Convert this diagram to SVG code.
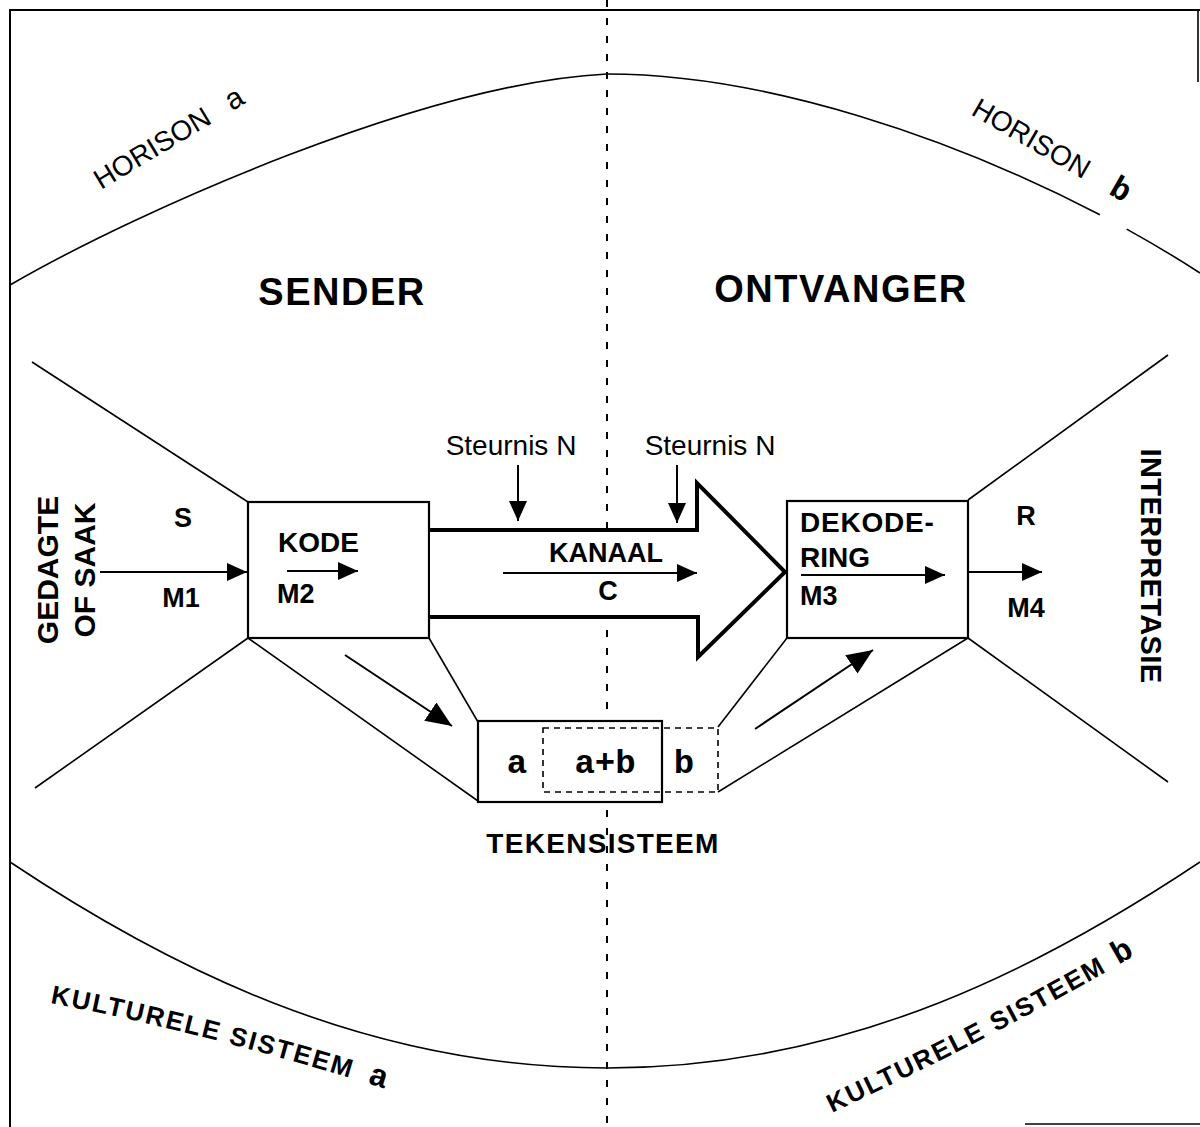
<svg xmlns="http://www.w3.org/2000/svg" width="1200" height="1127" viewBox="0 0 1200 1127">
<defs>
<style>
.ln{stroke:#000;stroke-width:1.6;fill:none}
.fr{stroke:#000;stroke-width:2;fill:none}
.t{font-family:"Liberation Sans",Arial,sans-serif;fill:#000}
.b{font-weight:bold}
.m{font-family:"Liberation Mono","Courier New",monospace;font-weight:bold}
.box{fill:#fff;stroke:#000;stroke-width:2.2}
.arr{stroke:#000;stroke-width:2;fill:none;marker-end:url(#ah)}
.darr{stroke:#000;stroke-width:2;fill:none;marker-end:url(#ahL)}
</style>
<marker id="ah" markerUnits="userSpaceOnUse" markerWidth="20" markerHeight="18" refX="20" refY="9" orient="auto" viewBox="0 0 20 18"><path d="M0,0 L20,9 L0,18 z" fill="#000"/></marker>
<marker id="ahL" markerUnits="userSpaceOnUse" markerWidth="26" markerHeight="22" refX="26" refY="11" orient="auto" viewBox="0 0 26 22"><path d="M0,0 L26,11 L0,22 z" fill="#000"/></marker>
<path id="kpa" d="M50,1003 C130,1018 250,1045 420,1100"/>
<path id="kpb" d="M832,1113 C900,1080 1000,1035 1170,935"/>
</defs>
<rect width="1200" height="1127" fill="#fff"/>
<g id="frame">
<path class="fr" d="M10,1127 V10 H1200"/>
<line class="ln" x1="1198" y1="10" x2="1198" y2="82"/>
<line class="ln" x1="1025" y1="1124" x2="1200" y2="1124"/>
</g>
<g id="centerline">
<line x1="607" y1="0" x2="607" y2="1127" stroke="#000" stroke-width="2" stroke-dasharray="7 11"/>
</g>
<g id="horizons">
<path class="ln" d="M10,285 C140,209.6 427,83 607,74"/>
<path class="ln" d="M607,74 C767,74 954.5,139 1099.9,214.8"/>
<path class="ln" d="M1126.7,229.1 C1152.9,243.6 1177.5,258.4 1200,273"/>
<path class="ln" d="M10,862 C160,962 360,1068 607,1068"/>
<path class="ln" d="M607,1068 C854,1068 1050,962 1200,862"/>
<text class="t" font-size="28" transform="translate(101,190) rotate(-31)">HORISON<tspan font-size="30" dx="22">a</tspan></text>
<text class="t" font-size="28" transform="translate(970,114) rotate(30)">HORISON<tspan class="m" font-size="32" dx="28">b</tspan></text>
<text class="t b" font-size="26" letter-spacing="2"><textPath href="#kpa">KULTURELE SISTEEM<tspan class="m" font-size="32" dx="16">a</tspan></textPath></text>
<text class="t b" font-size="26" letter-spacing="2"><textPath href="#kpb">KULTURELE SISTEEM<tspan class="m" font-size="32" dx="12">b</tspan></textPath></text>
</g>
<g id="funnels">
<line class="ln" x1="32" y1="362" x2="248" y2="502"/>
<line class="ln" x1="35" y1="788" x2="248" y2="638"/>
<line class="ln" x1="248" y1="638" x2="478" y2="801"/>
<line class="ln" x1="429" y1="638" x2="478" y2="722"/>
<line class="ln" x1="968" y1="500" x2="1168" y2="355"/>
<line class="ln" x1="968" y1="638" x2="1168" y2="782"/>
<line class="ln" x1="787" y1="638" x2="718" y2="727"/>
<line class="ln" x1="968" y1="638" x2="718" y2="792"/>
</g>
<g id="titles">
<text class="t b" font-size="38" letter-spacing="1.5" x="342" y="305" text-anchor="middle">SENDER</text>
<text class="t b" font-size="38" letter-spacing="1.5" x="841" y="302" text-anchor="middle">ONTVANGER</text>
<text class="t b" font-size="30" text-anchor="middle" transform="translate(58,570) rotate(-90)">GEDAGTE</text>
<text class="t b" font-size="30" text-anchor="middle" transform="translate(95,570) rotate(-90)">OF SAAK</text>
<text class="t b" font-size="29" letter-spacing="0.4" text-anchor="middle" transform="translate(1141,566) rotate(90)">INTERPRETASIE</text>
<text class="t b" font-size="27" x="183" y="527" text-anchor="middle">S</text>
<text class="t b" font-size="27" x="181" y="607" text-anchor="middle">M1</text>
<text class="t b" font-size="27" x="1026" y="525" text-anchor="middle">R</text>
<text class="t b" font-size="27" x="1026" y="617" text-anchor="middle">M4</text>
<text class="t" font-size="28" x="511" y="455" text-anchor="middle">Steurnis N</text>
<text class="t" font-size="28" x="710" y="455" text-anchor="middle">Steurnis N</text>
</g>
<g id="kode">
<rect class="box" x="248" y="502" width="181" height="136"/>
<text class="t b" font-size="28" x="278" y="552">KODE</text>
<text class="t b" font-size="27" x="277" y="603">M2</text>
</g>
<g id="kanaal">
<polyline points="430,530 697,530 697,483 785,572 698,657 698,617 430,617" fill="#fff" stroke="#000" stroke-width="4" stroke-linejoin="miter"/>
<text class="t b" font-size="27" x="606" y="562" text-anchor="middle">KANAAL</text>
<text class="t b" font-size="27" x="608" y="600" text-anchor="middle">C</text>
</g>
<g id="dekodering">
<rect class="box" x="787" y="501" width="181" height="137"/>
<text class="t b" font-size="28" letter-spacing="0.8" x="800" y="532">DEKODE-</text>
<text class="t b" font-size="28" x="800" y="567">RING</text>
<text class="t b" font-size="27" x="800" y="605">M3</text>
</g>
<g id="tekensisteem">
<rect class="box" x="478" y="721" width="184" height="81"/>
<rect x="543" y="728" width="175" height="64" fill="none" stroke="#000" stroke-width="1.6" stroke-dasharray="6 5"/>
<text class="m" font-size="34" x="517" y="773" text-anchor="middle">a</text>
<text class="m" font-size="34" x="605" y="773" text-anchor="middle">a+b</text>
<text class="m" font-size="34" x="684" y="773" text-anchor="middle">b</text>
<text class="t b" font-size="28" letter-spacing="1.3" x="603" y="853" text-anchor="middle">TEKENSISTEEM</text>
</g>
<g id="connectors">
<line class="arr" x1="100" y1="572" x2="247" y2="572"/>
<line class="arr" x1="287" y1="571" x2="358" y2="571"/>
<line class="arr" x1="503" y1="573" x2="697" y2="573"/>
<line class="arr" x1="801" y1="575" x2="945" y2="575"/>
<line class="arr" x1="968" y1="572" x2="1042" y2="572"/>
<line class="arr" x1="518" y1="465" x2="518" y2="521"/>
<line class="arr" x1="677" y1="465" x2="677" y2="523"/>
<line class="darr" x1="345" y1="655" x2="452" y2="726"/>
<line class="darr" x1="755" y1="729" x2="873" y2="650"/>
</g>
</svg>
